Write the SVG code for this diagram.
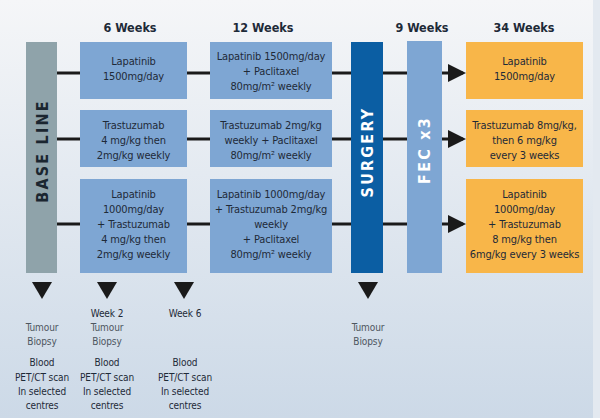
<svg xmlns="http://www.w3.org/2000/svg" width="600" height="420" viewBox="0 0 600 420">
<defs>
<linearGradient id="bg" x1="0" y1="0" x2="0" y2="1">
<stop offset="0" stop-color="#f5f6f8"/>
<stop offset="1" stop-color="#ccd9e7"/>
</linearGradient>
<marker id="arr" markerWidth="6" markerHeight="6" refX="5" refY="3" orient="auto" markerUnits="strokeWidth">
<path d="M0,0 L6,3 L0,6 Z" fill="#1a1a1a"/>
</marker>
<path id="tri" d="M-10,0 L10,0 L0,17 Z" fill="#1a1a1a"/>
</defs>
<style>
text{font-family:"DejaVu Sans Condensed","Liberation Sans Narrow","Liberation Sans",sans-serif;fill:#1e2a38;text-anchor:middle}
.hd{font-size:12.5px;font-weight:bold}
.bx{font-size:11px;letter-spacing:-0.15px}
.bl{fill:#7ea6d3}
.or{fill:#f8b649}
.vt{font-size:16px;font-weight:bold;letter-spacing:2.2px}
.ft{font-size:10px;letter-spacing:-0.1px}
.gr{fill:#4d5660}
.cn line{stroke:#1a1a1a;stroke-width:3}
</style>
<rect x="0" y="0" width="600" height="420" fill="#ffffff"/>
<rect x="0" y="0" width="593" height="418" fill="url(#bg)"/>
<rect x="593" y="0" width="7" height="418" fill="#e3e9f0"/>

<g class="cn">
<line x1="57" y1="73" x2="80" y2="73"/>
<line x1="187" y1="73" x2="210" y2="73"/>
<line x1="332" y1="73" x2="351" y2="73"/>
<line x1="383" y1="73" x2="407" y2="73"/>
<line x1="442" y1="73" x2="463" y2="73" marker-end="url(#arr)"/>
<line x1="57" y1="139" x2="80" y2="139"/>
<line x1="187" y1="139" x2="210" y2="139"/>
<line x1="332" y1="139" x2="351" y2="139"/>
<line x1="383" y1="139" x2="407" y2="139"/>
<line x1="442" y1="139" x2="463" y2="139" marker-end="url(#arr)"/>
<line x1="57" y1="224" x2="80" y2="224"/>
<line x1="187" y1="224" x2="210" y2="224"/>
<line x1="332" y1="224" x2="351" y2="224"/>
<line x1="383" y1="224" x2="407" y2="224"/>
<line x1="442" y1="224" x2="463" y2="224" marker-end="url(#arr)"/>
</g>

<g id="headers">
<text class="hd" x="130" y="32">6 Weeks</text>
<text class="hd" x="263" y="32">12 Weeks</text>
<text class="hd" x="422" y="32">9 Weeks</text>
<text class="hd" x="524" y="32">34 Weeks</text>
</g>

<g id="baseline">
<rect x="26" y="42" width="31" height="231" fill="#8fa3aa"/>
<text class="vt" transform="translate(47.5,151) rotate(-90)" style="fill:#1b2630">BASE LINE</text>
</g>

<g id="c1r1"><rect class="bl" x="80" y="42" width="107" height="57"/>
<text class="bx" x="133.5" y="65">Lapatinib</text><text class="bx" x="133.5" y="80">1500mg/day</text></g>
<g id="c1r2"><rect class="bl" x="80" y="110" width="107" height="57"/>
<text class="bx" x="133.5" y="129">Trastuzumab</text><text class="bx" x="133.5" y="144">4 mg/kg then</text><text class="bx" x="133.5" y="159">2mg/kg weekly</text></g>
<g id="c1r3"><rect class="bl" x="80" y="179" width="107" height="94"/>
<text class="bx" x="133.5" y="198">Lapatinib</text><text class="bx" x="133.5" y="213">1000mg/day</text><text class="bx" x="133.5" y="228">+ Trastuzumab</text><text class="bx" x="133.5" y="243">4 mg/kg then</text><text class="bx" x="133.5" y="258">2mg/kg weekly</text></g>

<g id="c2r1"><rect class="bl" x="210" y="42" width="122" height="57"/>
<text class="bx" x="271" y="60">Lapatinib 1500mg/day</text><text class="bx" x="271" y="75">+ Paclitaxel</text><text class="bx" x="271" y="90">80mg/m² weekly</text></g>
<g id="c2r2"><rect class="bl" x="210" y="110" width="122" height="57"/>
<text class="bx" x="271" y="129">Trastuzumab 2mg/kg</text><text class="bx" x="271" y="144">weekly + Paclitaxel</text><text class="bx" x="271" y="159">80mg/m² weekly</text></g>
<g id="c2r3"><rect class="bl" x="210" y="179" width="122" height="94"/>
<text class="bx" x="271" y="198">Lapatinib 1000mg/day</text><text class="bx" x="271" y="213">+ Trastuzumab 2mg/kg</text><text class="bx" x="271" y="228">weekly</text><text class="bx" x="271" y="243">+ Paclitaxel</text><text class="bx" x="271" y="258">80mg/m² weekly</text></g>

<g id="surgery">
<rect x="351" y="42" width="32" height="231" fill="#0b5ea3"/>
<text class="vt" transform="translate(372.5,152) rotate(-90)" style="fill:#ffffff">SURGERY</text>
</g>
<g id="fec">
<rect x="407" y="41" width="35" height="232" fill="#7ea6d3"/>
<text class="vt" transform="translate(430,150) rotate(-90)" style="fill:#ffffff">FEC x3</text>
</g>

<g id="o1"><rect class="or" x="466" y="42" width="117" height="57"/>
<text class="bx" x="524.5" y="65">Lapatinib</text><text class="bx" x="524.5" y="80">1500mg/day</text></g>
<g id="o2"><rect class="or" x="466" y="110" width="117" height="57"/>
<text class="bx" x="524.5" y="129">Trastuzumab 8mg/kg,</text><text class="bx" x="524.5" y="144">then 6 mg/kg</text><text class="bx" x="524.5" y="159">every 3 weeks</text></g>
<g id="o3"><rect class="or" x="466" y="179" width="117" height="94"/>
<text class="bx" x="524.5" y="198">Lapatinib</text><text class="bx" x="524.5" y="213">1000mg/day</text><text class="bx" x="524.5" y="228">+ Trastuzumab</text><text class="bx" x="524.5" y="243">8 mg/kg then</text><text class="bx" x="524.5" y="258">6mg/kg every 3 weeks</text></g>

<g id="m1">
<use href="#tri" x="42" y="282"/>
<text class="ft gr" x="42" y="331">Tumour</text><text class="ft gr" x="42" y="345">Biopsy</text>
<text class="ft" x="42" y="366">Blood</text><text class="ft" x="42" y="381">PET/CT scan</text><text class="ft" x="42" y="395">In selected</text><text class="ft" x="42" y="409">centres</text>
</g>
<g id="m2">
<use href="#tri" x="107" y="282"/>
<text class="ft" x="107" y="317">Week 2</text>
<text class="ft gr" x="107" y="331">Tumour</text><text class="ft gr" x="107" y="345">Biopsy</text>
<text class="ft" x="107" y="366">Blood</text><text class="ft" x="107" y="381">PET/CT scan</text><text class="ft" x="107" y="395">In selected</text><text class="ft" x="107" y="409">centres</text>
</g>
<g id="m3">
<use href="#tri" x="184" y="282"/>
<text class="ft" x="185" y="317">Week 6</text>
<text class="ft" x="185" y="366">Blood</text><text class="ft" x="185" y="381">PET/CT scan</text><text class="ft" x="185" y="395">In selected</text><text class="ft" x="185" y="409">centres</text>
</g>
<g id="m4">
<use href="#tri" x="368" y="282"/>
<text class="ft gr" x="368" y="331">Tumour</text><text class="ft gr" x="368" y="345">Biopsy</text>
</g>
</svg>
